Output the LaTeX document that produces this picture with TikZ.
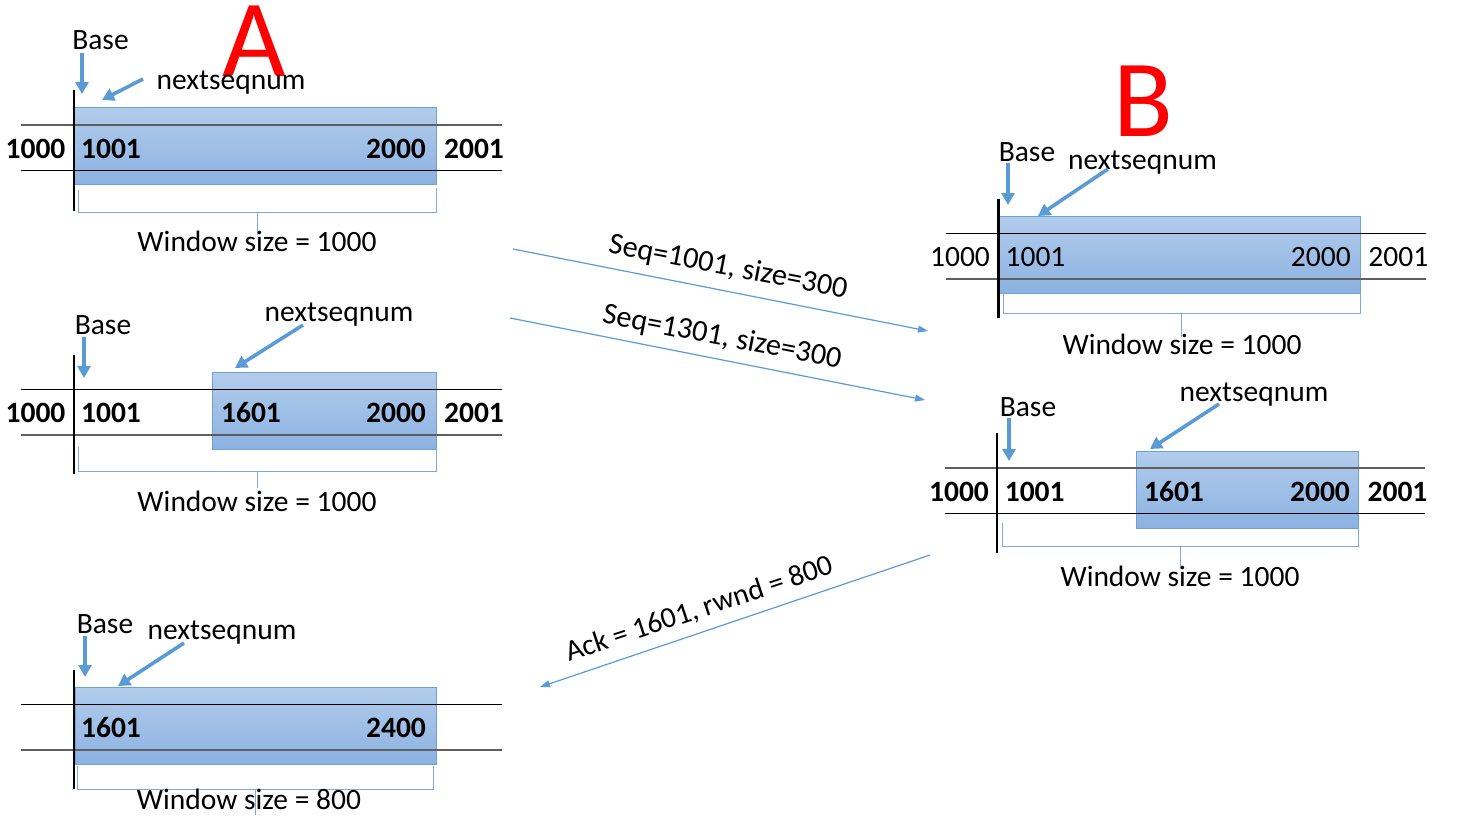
\documentclass[tikz,border=0pt]{standalone}
\usepackage{fontspec}
\setmainfont{Carlito}
\usetikzlibrary{arrows.meta}
\newcommand\myfs{\fontsize{29.5}{32}\selectfont}
\newcommand\myfsl{\fontsize{30.3}{33}\selectfont}
\newcommand\myfsbig{\fontsize{110}{120}\selectfont}
\definecolor{myblue}{RGB}{91,155,213}
\definecolor{rectdraw}{RGB}{110,160,216}
\definecolor{recttop}{RGB}{178,204,235}
\definecolor{rectbot}{RGB}{140,178,226}
\definecolor{brkblue}{RGB}{125,170,222}
\definecolor{linegray}{RGB}{95,95,95}
\definecolor{bigred}{RGB}{255,0,0}
\tikzset{
  txt/.style={inner sep=0pt, anchor=base, font=\myfs},
  num/.style={inner sep=0pt, anchor=base, font=\myfs\bfseries},
  numr/.style={inner sep=0pt, anchor=base, font=\myfs},
  msglbl/.style={inner sep=0pt, anchor=base, font=\myfsl},
  acklbl/.style={inner sep=0pt, anchor=base, font=\myfs},
  big/.style={inner sep=0pt, anchor=base, font=\myfsbig, text=bigred},
  ptr/.style={line width=3.6pt, draw=myblue, -{Triangle[width=13pt,length=12pt]}},
  msg/.style={line width=1.2pt, draw=myblue, -{Triangle[width=7pt,length=10pt]}},
  bufrect/.style={top color=recttop, bottom color=rectbot, draw=rectdraw, line width=1pt},
  gline/.style={line width=1.7pt, draw=linegray},
  bline/.style={line width=1pt, draw=black},
  vbar/.style={line width=2.6pt, draw=black},
  brk/.style={line width=1pt, draw=brkblue},
}
\begin{document}
\begin{tikzpicture}[x=1pt,y=-1pt]
\useasboundingbox (0,0) rectangle (1459,815);

% ================= A1 =================
\node[big] (A) at (254.5,76) {A};
\fill[bufrect] (74,107) rectangle (436,184);
\draw[gline] (21,125) -- (502,125);
\draw[bline] (21,170.7) -- (502,170.7);
\draw[vbar] (74,90) -- (74,211);
\draw[brk] (78,190) -- (78,212) -- (436,212) -- (436,188);
\draw[brk] (257,212) -- (257,235);
\node[txt] (a1base) at (100.5,49.3) {Base};
\node[txt] (a1ns) at (231,89) {nextseqnum};
\coordinate (a1bt) at (82,53);
\coordinate (a1bh) at (82,94);
\coordinate (a1nt) at (143,79);
\coordinate (a1nh) at (102,100);
\draw[ptr] (a1bt) -- (a1bh);
\draw[ptr] (a1nt) -- (a1nh);
\node[num] (a1n0) at (35.5,158) {1000};
\node[num] (a1n1) at (111,158) {1001};
\node[num] (a1n2) at (396,158) {2000};
\node[num] (a1n3) at (474,158) {2001};
\node[txt] (a1win) at (257,251.7) {Window size = 1000};

% ================= A2 =================
\fill[bufrect] (212,372) rectangle (436,449);
\draw[bline] (21,389) -- (502,389);
\draw[gline] (21,435) -- (502,435);
\draw[vbar] (74,355) -- (74,474);
\draw[brk] (78,447) -- (78,471) -- (436,471) -- (436,449);
\draw[brk] (257,471) -- (257,488);
\node[txt] (a2base) at (103,334.3) {Base};
\node[txt] (a2ns) at (339,321.7) {nextseqnum};
\coordinate (a2bt) at (84,337);
\coordinate (a2bh) at (84,378);
\coordinate (a2nt) at (303,325);
\coordinate (a2nh) at (235,368);
\draw[ptr] (a2bt) -- (a2bh);
\draw[ptr] (a2nt) -- (a2nh);
\node[num] (a2n0) at (35.5,422.7) {1000};
\node[num] (a2n1) at (111,422.7) {1001};
\node[num] (a2n2) at (251,422.7) {1601};
\node[num] (a2n3) at (396,422.7) {2000};
\node[num] (a2n4) at (474,422.7) {2001};
\node[txt] (a2win) at (257,511.7) {Window size = 1000};

% ================= A3 =================
\fill[bufrect] (75,687) rectangle (436,764);
\draw[bline] (21,704) -- (502,704);
\draw[gline] (21,750) -- (502,750);
\draw[vbar] (74,670) -- (74,789);
\draw[brk] (77,766) -- (77,789) -- (433,789) -- (433,766);
\draw[brk] (255,789) -- (255,815);
\node[txt] (a3base) at (105,633) {Base};
\node[txt] (a3ns) at (222,639) {nextseqnum};
\coordinate (a3bt) at (85,636);
\coordinate (a3bh) at (85,677);
\coordinate (a3nt) at (184,643);
\coordinate (a3nh) at (118,686);
\draw[ptr] (a3bt) -- (a3bh);
\draw[ptr] (a3nt) -- (a3nh);
\node[num] (a3n1) at (111,737) {1601};
\node[num] (a3n2) at (396,737) {2400};
\node[txt] (a3win) at (249,809) {Window size = 800};

% ================= B1 =================
\node[big] (B) at (1143.7,136) {B};
\fill[bufrect] (998,216) rectangle (1360,293);
\draw[bline] (946,233.3) -- (1426,233.3);
\draw[gline] (946,279) -- (1426,279);
\draw[vbar] (998.3,199) -- (998.3,318);
\draw[brk] (1003,291) -- (1003,313.7) -- (1360,313.7) -- (1360,291);
\draw[brk] (1181,313.7) -- (1181,336.7);
\node[txt] (b1base) at (1027,161.7) {Base};
\node[txt] (b1ns) at (1142.5,169.3) {nextseqnum};
\coordinate (b1bt) at (1008,163);
\coordinate (b1bh) at (1008,205);
\coordinate (b1nt) at (1108,169);
\coordinate (b1nh) at (1038,216);
\draw[ptr] (b1bt) -- (b1bh);
\draw[ptr] (b1nt) -- (b1nh);
\node[numr] (b1n0) at (960,266.7) {1000};
\node[numr] (b1n1) at (1035.5,266.7) {1001};
\node[numr] (b1n2) at (1320.8,266.7) {2000};
\node[numr] (b1n3) at (1398.3,266.7) {2001};
\node[txt] (b1win) at (1182,354) {Window size = 1000};

% ================= B2 =================
\fill[bufrect] (1136,451) rectangle (1358,528);
\draw[gline] (945,467.7) -- (1425,467.7);
\draw[bline] (945,513) -- (1425,513);
\draw[vbar] (997,433) -- (997,553);
\draw[brk] (1002,523) -- (1002,546) -- (1358,546) -- (1358,528);
\draw[brk] (1180,546) -- (1180,569);
\node[txt] (b2base) at (1028,416.7) {Base};
\node[txt] (b2ns) at (1254,401.7) {nextseqnum};
\coordinate (b2bt) at (1009,418);
\coordinate (b2bh) at (1009,461);
\coordinate (b2nt) at (1219,404);
\coordinate (b2nh) at (1150,449);
\draw[ptr] (b2bt) -- (b2bh);
\draw[ptr] (b2nt) -- (b2nh);
\node[num] (b2n0) at (959,501) {1000};
\node[num] (b2n1) at (1034.7,501) {1001};
\node[num] (b2n2) at (1174,501) {1601};
\node[num] (b2n3) at (1320,501) {2000};
\node[num] (b2n4) at (1397.5,501) {2001};
\node[txt] (b2win) at (1180,586.7) {Window size = 1000};

% ================= messages =================
\coordinate (s1a) at (513,249);
\coordinate (s1b) at (928,331);
\coordinate (s2a) at (510,318);
\coordinate (s2b) at (925,400);
\coordinate (k1a) at (930,555);
\coordinate (k1b) at (540,687);
\draw[msg] (s1a) -- (s1b);
\draw[msg] (s2a) -- (s2b);
\draw[msg] (k1a) -- (k1b);
\node[msglbl, rotate=-10.9] (s1l) at (726.5,275.5) {Seq=1001, size=300};
\node[msglbl, rotate=-10.8] (s2l) at (720.5,345.5) {Seq=1301, size=300};
\node[acklbl, rotate=18.4] (k1l) at (702,617.5) {Ack = 1601, rwnd = 800};
\end{tikzpicture}
\end{document}
